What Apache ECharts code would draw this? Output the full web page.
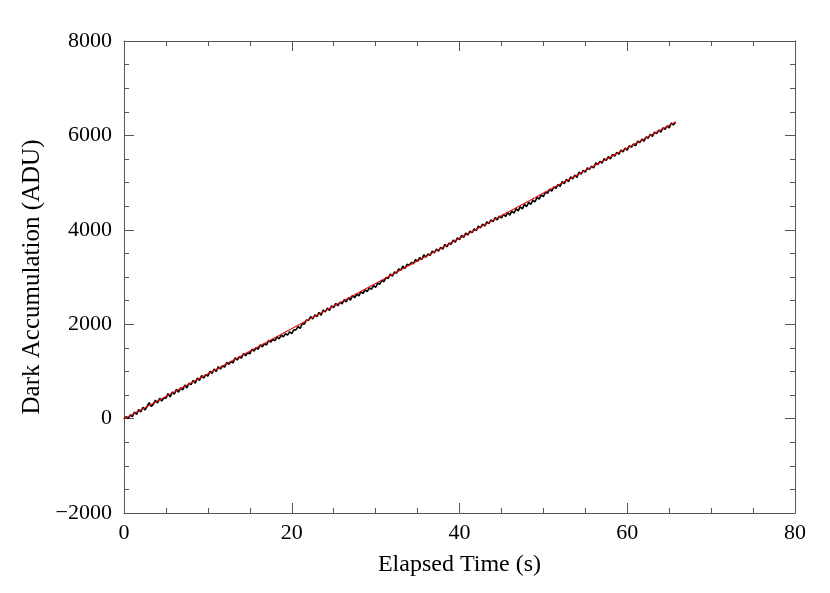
<!DOCTYPE html>
<html>
<head>
<meta charset="utf-8">
<script src="https://cdn.jsdelivr.net/npm/echarts@6/dist/echarts.min.js"></script>
<style>
  html, body { margin: 0; padding: 0; background: #fff; }
  #chart { width: 830px; height: 593px; }
</style>
</head>
<body>
<div id="chart"></div>
<script>
// elapsed time (s) of the dark samples
const times = [
  0, 0.25, 0.5, 0.75, 1, 1.25, 1.5, 1.75, 2, 2.25, 2.5, 2.75, 3, 3.25, 3.5, 3.75, 4, 4.25, 4.5, 4.75,
  5, 5.25, 5.5, 5.75, 6, 6.25, 6.5, 6.75, 7, 7.25, 7.5, 7.75, 8, 8.25, 8.5, 8.75, 9, 9.25, 9.5, 9.75,
  10, 10.25, 10.5, 10.75, 11, 11.25, 11.5, 11.75, 12, 12.25, 12.5, 12.75, 13, 13.25, 13.5, 13.75, 14, 14.25, 14.5, 14.75,
  15, 15.25, 15.5, 15.75, 16, 16.25, 16.5, 16.75, 17, 17.25, 17.5, 17.75, 18, 18.25, 18.5, 18.75, 19, 19.25, 19.5, 19.75,
  20, 20.25, 20.5, 20.75, 21, 21.25, 21.5, 21.75, 22, 22.25, 22.5, 22.75, 23, 23.25, 23.5, 23.75, 24, 24.25, 24.5, 24.75,
  25, 25.25, 25.5, 25.75, 26, 26.25, 26.5, 26.75, 27, 27.25, 27.5, 27.75, 28, 28.25, 28.5, 28.75, 29, 29.25, 29.5, 29.75,
  30, 30.25, 30.5, 30.75, 31, 31.25, 31.5, 31.75, 32, 32.25, 32.5, 32.75, 33, 33.25, 33.5, 33.75, 34, 34.25, 34.5, 34.75,
  35, 35.25, 35.5, 35.75, 36, 36.25, 36.5, 36.75, 37, 37.25, 37.5, 37.75, 38, 38.25, 38.5, 38.75, 39, 39.25, 39.5, 39.75,
  40, 40.25, 40.5, 40.75, 41, 41.25, 41.5, 41.75, 42, 42.25, 42.5, 42.75, 43, 43.25, 43.5, 43.75, 44, 44.25, 44.5, 44.75,
  45, 45.25, 45.5, 45.75, 46, 46.25, 46.5, 46.75, 47, 47.25, 47.5, 47.75, 48, 48.25, 48.5, 48.75, 49, 49.25, 49.5, 49.75,
  50, 50.25, 50.5, 50.75, 51, 51.25, 51.5, 51.75, 52, 52.25, 52.5, 52.75, 53, 53.25, 53.5, 53.75, 54, 54.25, 54.5, 54.75,
  55, 55.25, 55.5, 55.75, 56, 56.25, 56.5, 56.75, 57, 57.25, 57.5, 57.75, 58, 58.25, 58.5, 58.75, 59, 59.25, 59.5, 59.75,
  60, 60.25, 60.5, 60.75, 61, 61.25, 61.5, 61.75, 62, 62.25, 62.5, 62.75, 63, 63.25, 63.5, 63.75, 64, 64.25, 64.5, 64.75,
  65, 65.25, 65.5, 65.75
]
// measured dark accumulation (ADU)
const counts = [
  -10, 40, 0, 80, 40, 140, 90, 190, 140, 240, 180, 260, 340, 260, 300, 390, 330, 430, 370, 440,
  430, 530, 460, 560, 520, 620, 560, 650, 610, 710, 650, 750, 720, 810, 750, 860, 810, 910, 860, 930,
  900, 1000, 960, 1050, 1000, 1100, 1050, 1120, 1090, 1190, 1150, 1210, 1180, 1290, 1240, 1310, 1280, 1380, 1330, 1400,
  1370, 1470, 1430, 1500, 1470, 1560, 1520, 1590, 1560, 1660, 1620, 1680, 1650, 1730, 1690, 1770, 1730, 1800, 1770, 1840,
  1800, 1880, 1880, 1950, 1910, 2010, 2000, 2090, 2080, 2160, 2110, 2200, 2160, 2250, 2190, 2300, 2260, 2340, 2290, 2390,
  2350, 2440, 2390, 2470, 2430, 2520, 2470, 2560, 2510, 2610, 2560, 2640, 2600, 2690, 2650, 2730, 2690, 2770, 2740, 2820,
  2780, 2870, 2850, 2930, 2900, 2990, 2970, 3060, 3020, 3110, 3080, 3170, 3140, 3230, 3180, 3270, 3250, 3310, 3280, 3370,
  3330, 3410, 3370, 3470, 3420, 3490, 3460, 3550, 3510, 3590, 3550, 3630, 3590, 3690, 3640, 3720, 3690, 3780, 3740, 3830,
  3790, 3880, 3840, 3930, 3890, 3970, 3940, 4020, 3980, 4080, 4040, 4120, 4080, 4170, 4130, 4210, 4170, 4260, 4210, 4290,
  4250, 4330, 4280, 4370, 4310, 4400, 4350, 4450, 4400, 4490, 4440, 4540, 4490, 4580, 4540, 4630, 4590, 4690, 4650, 4740,
  4700, 4800, 4770, 4860, 4820, 4910, 4880, 4960, 4920, 5020, 4980, 5070, 5020, 5120, 5080, 5160, 5110, 5220, 5180, 5260,
  5220, 5310, 5280, 5350, 5310, 5420, 5380, 5450, 5410, 5510, 5470, 5550, 5500, 5600, 5560, 5640, 5600, 5690, 5650, 5730,
  5690, 5780, 5750, 5820, 5780, 5880, 5850, 5920, 5880, 5970, 5940, 6020, 5980, 6070, 6040, 6110, 6070, 6160, 6130, 6200,
  6160, 6260, 6220, 6280
]
// linear fit end points
const fitTimes = [0, 65.8]
const fitCounts = [-10, 6290]

const font = 'Liberation Serif'
const axisColor = '#555'

const chart = echarts.init(document.getElementById('chart'))

const tickCommon = {
  axisLine: { show: true, onZero: false, lineStyle: { color: axisColor, width: 1 } },
  axisTick: { show: true, inside: true, length: 10, lineStyle: { color: axisColor } },
  minorTick: { show: true, splitNumber: 4, length: 5, lineStyle: { color: axisColor } },
  splitLine: { show: false }
}

const option = {
  animation: false,
  grid: { left: 124, right: 35, top: 41, bottom: 80 },
  xAxis: [
    {
      type: 'value', min: 0, max: 80, interval: 20, position: 'bottom',
      ...tickCommon,
      axisLabel: { color: '#000', fontFamily: font, fontSize: 22, margin: 9 },
      name: 'Elapsed Time (s)', nameLocation: 'middle', nameGap: 40,
      nameTextStyle: { color: '#000', fontFamily: font, fontSize: 24 }
    },
    {
      type: 'value', min: 0, max: 80, interval: 20, position: 'top',
      ...tickCommon,
      axisLabel: { show: false }
    }
  ],
  yAxis: [
    {
      type: 'value', min: -2000, max: 8000, interval: 2000, position: 'left',
      ...tickCommon,
      axisLabel: { color: '#000', fontFamily: font, fontSize: 22, margin: 12,
        formatter: v => (v < 0 ? '\u2212' + Math.abs(v) : String(v)) },
      name: 'Dark Accumulation (ADU)', nameLocation: 'middle', nameGap: 77,
      nameTextStyle: { color: '#000', fontFamily: font, fontSize: 25 }
    },
    {
      type: 'value', min: -2000, max: 8000, interval: 2000, position: 'right',
      ...tickCommon,
      axisLabel: { show: false }
    }
  ],
  series: [
    {
      name: 'data', type: 'line', showSymbol: false, symbol: 'none',
      data: times.map((t, i) => [t, counts[i]]),
      lineStyle: { color: '#000', width: 1.6 },
      z: 2
    },
    {
      name: 'fit', type: 'line', showSymbol: false, symbol: 'none',
      data: fitTimes.map((t, i) => [t, fitCounts[i]]),
      lineStyle: { color: '#e01010', width: 1.1 },
      z: 3
    }
  ]
}

chart.setOption(option)
</script>
</body>
</html>
